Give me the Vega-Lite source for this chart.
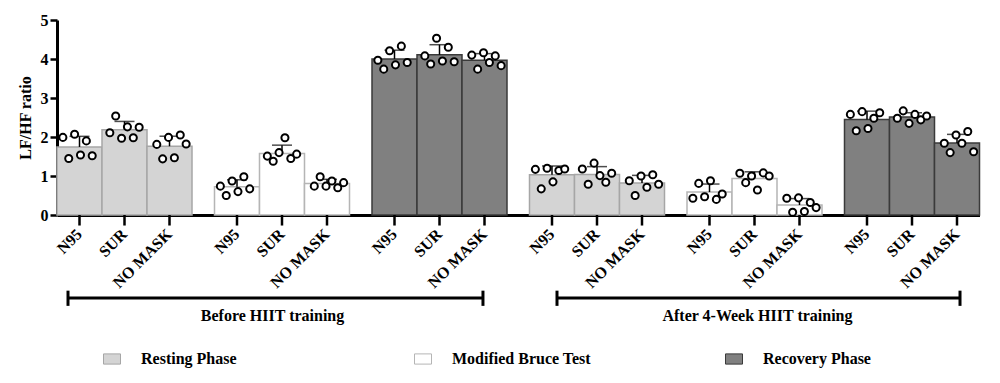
{
  "$schema": "https://vega.github.io/schema/vega-lite/v6.json",
  "autosize": {"type": "none"},
  "padding": {"left": 57, "top": 20, "right": 20.5, "bottom": 168},
  "width": 922.5,
  "height": 195,
  "config": {
    "view": {"stroke": null},
    "font": "Liberation Serif",
    "axisY": {
      "grid": false, "labelOverlap": false, "tickCount": 6,
      "domainWidth": 3, "domainColor": "black", "tickWidth": 2.5, "tickSize": 7, "tickColor": "black",
      "labelFont": "Liberation Serif", "labelFontWeight": "bold", "labelFontSize": 16, "labelColor": "black", "labelPadding": 2,
      "titleFont": "Liberation Serif", "titleFontWeight": "bold", "titleFontSize": 16, "titleColor": "black", "titlePadding": 7
    }
  },
  "data": {"values": [
    {"period":"Before","phase":"Resting Phase","mask":"N95","subject":1,"value":1.99},
    {"period":"Before","phase":"Resting Phase","mask":"N95","subject":2,"value":1.45},
    {"period":"Before","phase":"Resting Phase","mask":"N95","subject":3,"value":2.07},
    {"period":"Before","phase":"Resting Phase","mask":"N95","subject":4,"value":1.54},
    {"period":"Before","phase":"Resting Phase","mask":"N95","subject":5,"value":1.90},
    {"period":"Before","phase":"Resting Phase","mask":"N95","subject":6,"value":1.52},
    {"period":"Before","phase":"Resting Phase","mask":"SUR","subject":1,"value":2.11},
    {"period":"Before","phase":"Resting Phase","mask":"SUR","subject":2,"value":2.54},
    {"period":"Before","phase":"Resting Phase","mask":"SUR","subject":3,"value":1.97},
    {"period":"Before","phase":"Resting Phase","mask":"SUR","subject":4,"value":2.26},
    {"period":"Before","phase":"Resting Phase","mask":"SUR","subject":5,"value":1.98},
    {"period":"Before","phase":"Resting Phase","mask":"SUR","subject":6,"value":2.25},
    {"period":"Before","phase":"Resting Phase","mask":"NO MASK","subject":1,"value":1.81},
    {"period":"Before","phase":"Resting Phase","mask":"NO MASK","subject":2,"value":1.44},
    {"period":"Before","phase":"Resting Phase","mask":"NO MASK","subject":3,"value":1.99},
    {"period":"Before","phase":"Resting Phase","mask":"NO MASK","subject":4,"value":1.47},
    {"period":"Before","phase":"Resting Phase","mask":"NO MASK","subject":5,"value":2.05},
    {"period":"Before","phase":"Resting Phase","mask":"NO MASK","subject":6,"value":1.82},
    {"period":"Before","phase":"Modified Bruce Test","mask":"N95","subject":1,"value":0.74},
    {"period":"Before","phase":"Modified Bruce Test","mask":"N95","subject":2,"value":0.50},
    {"period":"Before","phase":"Modified Bruce Test","mask":"N95","subject":3,"value":0.87},
    {"period":"Before","phase":"Modified Bruce Test","mask":"N95","subject":4,"value":0.60},
    {"period":"Before","phase":"Modified Bruce Test","mask":"N95","subject":5,"value":0.98},
    {"period":"Before","phase":"Modified Bruce Test","mask":"N95","subject":6,"value":0.67},
    {"period":"Before","phase":"Modified Bruce Test","mask":"SUR","subject":1,"value":1.51},
    {"period":"Before","phase":"Modified Bruce Test","mask":"SUR","subject":2,"value":1.38},
    {"period":"Before","phase":"Modified Bruce Test","mask":"SUR","subject":3,"value":1.60},
    {"period":"Before","phase":"Modified Bruce Test","mask":"SUR","subject":4,"value":1.98},
    {"period":"Before","phase":"Modified Bruce Test","mask":"SUR","subject":5,"value":1.45},
    {"period":"Before","phase":"Modified Bruce Test","mask":"SUR","subject":6,"value":1.56},
    {"period":"Before","phase":"Modified Bruce Test","mask":"NO MASK","subject":1,"value":0.74},
    {"period":"Before","phase":"Modified Bruce Test","mask":"NO MASK","subject":2,"value":0.98},
    {"period":"Before","phase":"Modified Bruce Test","mask":"NO MASK","subject":3,"value":0.74},
    {"period":"Before","phase":"Modified Bruce Test","mask":"NO MASK","subject":4,"value":0.87},
    {"period":"Before","phase":"Modified Bruce Test","mask":"NO MASK","subject":5,"value":0.70},
    {"period":"Before","phase":"Modified Bruce Test","mask":"NO MASK","subject":6,"value":0.83},
    {"period":"Before","phase":"Recovery Phase","mask":"N95","subject":1,"value":3.97},
    {"period":"Before","phase":"Recovery Phase","mask":"N95","subject":2,"value":3.74},
    {"period":"Before","phase":"Recovery Phase","mask":"N95","subject":3,"value":4.21},
    {"period":"Before","phase":"Recovery Phase","mask":"N95","subject":4,"value":3.85},
    {"period":"Before","phase":"Recovery Phase","mask":"N95","subject":5,"value":4.33},
    {"period":"Before","phase":"Recovery Phase","mask":"N95","subject":6,"value":3.91},
    {"period":"Before","phase":"Recovery Phase","mask":"SUR","subject":1,"value":4.08},
    {"period":"Before","phase":"Recovery Phase","mask":"SUR","subject":2,"value":3.87},
    {"period":"Before","phase":"Recovery Phase","mask":"SUR","subject":3,"value":4.53},
    {"period":"Before","phase":"Recovery Phase","mask":"SUR","subject":4,"value":3.95},
    {"period":"Before","phase":"Recovery Phase","mask":"SUR","subject":5,"value":4.30},
    {"period":"Before","phase":"Recovery Phase","mask":"SUR","subject":6,"value":3.93},
    {"period":"Before","phase":"Recovery Phase","mask":"NO MASK","subject":1,"value":4.10},
    {"period":"Before","phase":"Recovery Phase","mask":"NO MASK","subject":2,"value":3.74},
    {"period":"Before","phase":"Recovery Phase","mask":"NO MASK","subject":3,"value":4.16},
    {"period":"Before","phase":"Recovery Phase","mask":"NO MASK","subject":4,"value":3.91},
    {"period":"Before","phase":"Recovery Phase","mask":"NO MASK","subject":5,"value":4.08},
    {"period":"Before","phase":"Recovery Phase","mask":"NO MASK","subject":6,"value":3.83},
    {"period":"After","phase":"Resting Phase","mask":"N95","subject":1,"value":1.17},
    {"period":"After","phase":"Resting Phase","mask":"N95","subject":2,"value":0.67},
    {"period":"After","phase":"Resting Phase","mask":"N95","subject":3,"value":1.20},
    {"period":"After","phase":"Resting Phase","mask":"N95","subject":4,"value":0.85},
    {"period":"After","phase":"Resting Phase","mask":"N95","subject":5,"value":1.14},
    {"period":"After","phase":"Resting Phase","mask":"N95","subject":6,"value":1.18},
    {"period":"After","phase":"Resting Phase","mask":"SUR","subject":1,"value":1.18},
    {"period":"After","phase":"Resting Phase","mask":"SUR","subject":2,"value":0.79},
    {"period":"After","phase":"Resting Phase","mask":"SUR","subject":3,"value":1.33},
    {"period":"After","phase":"Resting Phase","mask":"SUR","subject":4,"value":1.01},
    {"period":"After","phase":"Resting Phase","mask":"SUR","subject":5,"value":0.84},
    {"period":"After","phase":"Resting Phase","mask":"SUR","subject":6,"value":1.07},
    {"period":"After","phase":"Resting Phase","mask":"NO MASK","subject":1,"value":0.88},
    {"period":"After","phase":"Resting Phase","mask":"NO MASK","subject":2,"value":0.50},
    {"period":"After","phase":"Resting Phase","mask":"NO MASK","subject":3,"value":1.00},
    {"period":"After","phase":"Resting Phase","mask":"NO MASK","subject":4,"value":0.71},
    {"period":"After","phase":"Resting Phase","mask":"NO MASK","subject":5,"value":1.03},
    {"period":"After","phase":"Resting Phase","mask":"NO MASK","subject":6,"value":0.79},
    {"period":"After","phase":"Modified Bruce Test","mask":"N95","subject":1,"value":0.43},
    {"period":"After","phase":"Modified Bruce Test","mask":"N95","subject":2,"value":0.81},
    {"period":"After","phase":"Modified Bruce Test","mask":"N95","subject":3,"value":0.47},
    {"period":"After","phase":"Modified Bruce Test","mask":"N95","subject":4,"value":0.88},
    {"period":"After","phase":"Modified Bruce Test","mask":"N95","subject":5,"value":0.40},
    {"period":"After","phase":"Modified Bruce Test","mask":"N95","subject":6,"value":0.54},
    {"period":"After","phase":"Modified Bruce Test","mask":"SUR","subject":1,"value":1.07},
    {"period":"After","phase":"Modified Bruce Test","mask":"SUR","subject":2,"value":0.83},
    {"period":"After","phase":"Modified Bruce Test","mask":"SUR","subject":3,"value":1.00},
    {"period":"After","phase":"Modified Bruce Test","mask":"SUR","subject":4,"value":0.64},
    {"period":"After","phase":"Modified Bruce Test","mask":"SUR","subject":5,"value":1.08},
    {"period":"After","phase":"Modified Bruce Test","mask":"SUR","subject":6,"value":1.00},
    {"period":"After","phase":"Modified Bruce Test","mask":"NO MASK","subject":1,"value":0.43},
    {"period":"After","phase":"Modified Bruce Test","mask":"NO MASK","subject":2,"value":0.07},
    {"period":"After","phase":"Modified Bruce Test","mask":"NO MASK","subject":3,"value":0.44},
    {"period":"After","phase":"Modified Bruce Test","mask":"NO MASK","subject":4,"value":0.09},
    {"period":"After","phase":"Modified Bruce Test","mask":"NO MASK","subject":5,"value":0.32},
    {"period":"After","phase":"Modified Bruce Test","mask":"NO MASK","subject":6,"value":0.19},
    {"period":"After","phase":"Recovery Phase","mask":"N95","subject":1,"value":2.58},
    {"period":"After","phase":"Recovery Phase","mask":"N95","subject":2,"value":2.16},
    {"period":"After","phase":"Recovery Phase","mask":"N95","subject":3,"value":2.65},
    {"period":"After","phase":"Recovery Phase","mask":"N95","subject":4,"value":2.22},
    {"period":"After","phase":"Recovery Phase","mask":"N95","subject":5,"value":2.48},
    {"period":"After","phase":"Recovery Phase","mask":"N95","subject":6,"value":2.62},
    {"period":"After","phase":"Recovery Phase","mask":"SUR","subject":1,"value":2.48},
    {"period":"After","phase":"Recovery Phase","mask":"SUR","subject":2,"value":2.67},
    {"period":"After","phase":"Recovery Phase","mask":"SUR","subject":3,"value":2.35},
    {"period":"After","phase":"Recovery Phase","mask":"SUR","subject":4,"value":2.58},
    {"period":"After","phase":"Recovery Phase","mask":"SUR","subject":5,"value":2.44},
    {"period":"After","phase":"Recovery Phase","mask":"SUR","subject":6,"value":2.54},
    {"period":"After","phase":"Recovery Phase","mask":"NO MASK","subject":1,"value":1.84},
    {"period":"After","phase":"Recovery Phase","mask":"NO MASK","subject":2,"value":1.60},
    {"period":"After","phase":"Recovery Phase","mask":"NO MASK","subject":3,"value":2.05},
    {"period":"After","phase":"Recovery Phase","mask":"NO MASK","subject":4,"value":1.84},
    {"period":"After","phase":"Recovery Phase","mask":"NO MASK","subject":5,"value":2.14},
    {"period":"After","phase":"Recovery Phase","mask":"NO MASK","subject":6,"value":1.62}
  ]},
  "transform": [
    {"calculate": "datum.period + '|' + datum.phase", "as": "group"},
    {"calculate": "datum.mask + '|' + datum.subject", "as": "key"}
  ],
  "encoding": {
    "x": {
      "field": "group", "type": "nominal",
      "scale": {
        "domain": ["Before|Resting Phase","Before|Modified Bruce Test","Before|Recovery Phase","After|Resting Phase","After|Modified Bruce Test","After|Recovery Phase"],
        "paddingInner": 0.142857, "paddingOuter": 0
      },
      "axis": {"labels": false, "ticks": false, "title": null, "domainWidth": 3, "domainColor": "black"}
    }
  },
  "layer": [
    {
      "mark": {"type": "bar", "strokeWidth": 1.5},
      "encoding": {
        "xOffset": {"field": "mask", "type": "nominal", "scale": {"domain": ["N95","SUR","NO MASK"], "paddingInner": 0, "paddingOuter": 0}},
        "y": {
          "aggregate": "mean", "field": "value", "type": "quantitative", "stack": null, "title": "LF/HF ratio",
          "scale": {"domain": [0, 5], "nice": false},
          "axis": {"values": [0,1,2,3,4,5], "title": "LF/HF ratio", "labelOverlap": false, "titleFontSize": 16, "titleFontWeight": "bold", "titleFont": "Liberation Serif", "titlePadding": 7}
        },
        "fill": {
          "field": "phase", "type": "nominal",
          "scale": {"domain": ["Resting Phase","Modified Bruce Test","Recovery Phase"], "range": ["#d4d4d4","#ffffff","#808080"]},
          "legend": {
            "orient": "none", "legendX": 46, "legendY": 330, "direction": "horizontal", "columns": 3,
            "gridAlign": "all", "columnPadding": 132, "title": null,
            "symbolType": "M-1,-0.6H1V0.6H-1Z", "symbolSize": 289, "symbolStrokeWidth": 1,
            "labelFont": "Liberation Serif", "labelFontWeight": "bold", "labelFontSize": 16, "labelColor": "black",
            "labelOffset": 20, "labelLimit": 300
          }
        },
        "stroke": {
          "field": "phase", "type": "nominal",
          "scale": {"domain": ["Resting Phase","Modified Bruce Test","Recovery Phase"], "range": ["#a6a6a6","#b5b5b5","#3a3a3a"]},
          "legend": {
            "orient": "none", "legendX": 46, "legendY": 330, "direction": "horizontal", "columns": 3,
            "gridAlign": "all", "columnPadding": 132, "title": null,
            "symbolType": "M-1,-0.6H1V0.6H-1Z", "symbolSize": 289, "symbolStrokeWidth": 1,
            "labelFont": "Liberation Serif", "labelFontWeight": "bold", "labelFontSize": 16, "labelColor": "black",
            "labelOffset": 20, "labelLimit": 300
          }
        }
      }
    },
    {
      "transform": [
        {"aggregate": [{"op": "mean", "field": "value", "as": "mean"}, {"op": "stdev", "field": "value", "as": "sd"}], "groupby": ["group", "mask"]},
        {"calculate": "datum.mean + datum.sd", "as": "hi"}
      ],
      "encoding": {
        "xOffset": {"field": "mask", "type": "nominal", "scale": {"domain": ["N95","SUR","NO MASK"], "paddingInner": 0, "paddingOuter": 0}}
      },
      "layer": [
        {
          "mark": {"type": "rule", "color": "black", "strokeWidth": 1.5},
          "encoding": {"y": {"field": "mean", "type": "quantitative", "title": "LF/HF ratio", "axis": {"values": [0,1,2,3,4,5], "title": "LF/HF ratio", "labelOverlap": false, "titleFontSize": 16, "titleFontWeight": "bold", "titleFont": "Liberation Serif", "titlePadding": 7}}, "y2": {"field": "hi"}}
        },
        {
          "mark": {"type": "tick", "color": "black", "thickness": 1.5, "size": 20, "orient": "horizontal"},
          "encoding": {"y": {"field": "hi", "type": "quantitative", "title": "LF/HF ratio", "axis": {"values": [0,1,2,3,4,5], "title": "LF/HF ratio", "labelOverlap": false, "titleFontSize": 16, "titleFontWeight": "bold", "titleFont": "Liberation Serif", "titlePadding": 7}}}
        },
        {
          "mark": {"type": "rule", "color": "black", "strokeWidth": 2.5},
          "encoding": {"y": {"datum": 0, "title": "LF/HF ratio", "axis": {"values": [0,1,2,3,4,5], "title": "LF/HF ratio", "labelOverlap": false, "titleFontSize": 16, "titleFontWeight": "bold", "titleFont": "Liberation Serif", "titlePadding": 7}}, "y2": {"datum": -0.27}}
        },
        {
          "mark": {"type": "text", "angle": 315, "align": "right", "baseline": "middle", "font": "Liberation Serif", "fontWeight": "bold", "fontSize": 16, "fill": "black"},
          "encoding": {"y": {"datum": -0.43, "title": "LF/HF ratio", "axis": {"values": [0,1,2,3,4,5], "title": "LF/HF ratio", "labelOverlap": false, "titleFontSize": 16, "titleFontWeight": "bold", "titleFont": "Liberation Serif", "titlePadding": 7}}, "text": {"field": "mask", "type": "nominal"}}
        }
      ]
    },
    {
      "mark": {"type": "point", "shape": "circle", "filled": false, "fill": "white", "fillOpacity": 1, "stroke": "black", "strokeWidth": 2, "size": 50, "opacity": 1},
      "encoding": {
        "xOffset": {
          "field": "key", "type": "nominal",
          "scale": {"domain": ["s0","N95|1","N95|2","N95|3","N95|4","N95|5","N95|6","s1","s2","SUR|1","SUR|2","SUR|3","SUR|4","SUR|5","SUR|6","s3","s4","NO MASK|1","NO MASK|2","NO MASK|3","NO MASK|4","NO MASK|5","NO MASK|6","s5"], "paddingInner": 0, "paddingOuter": 0}
        },
        "y": {"field": "value", "type": "quantitative", "title": "LF/HF ratio", "axis": {"values": [0,1,2,3,4,5], "title": "LF/HF ratio", "labelOverlap": false, "titleFontSize": 16, "titleFontWeight": "bold", "titleFont": "Liberation Serif", "titlePadding": 7}}
      }
    },
    {
      "data": {"values": [{}]},
      "mark": {"type": "rule", "color": "black", "strokeWidth": 3},
      "encoding": {
        "x": {"datum": "Before|Resting Phase", "bandPosition": 0.0815},
        "x2": {"datum": "Before|Recovery Phase", "bandPosition": 0.822},
        "y": {"datum": -2.128, "title": "LF/HF ratio", "axis": {"values": [0,1,2,3,4,5], "title": "LF/HF ratio", "labelOverlap": false, "titleFontSize": 16, "titleFontWeight": "bold", "titleFont": "Liberation Serif", "titlePadding": 7}}
      }
    },
    {
      "data": {"values": [{}]},
      "mark": {"type": "rule", "color": "black", "strokeWidth": 3},
      "encoding": {
        "x": {"datum": "After|Resting Phase", "bandPosition": 0.2037},
        "x2": {"datum": "After|Recovery Phase", "bandPosition": 0.8556},
        "y": {"datum": -2.128, "title": "LF/HF ratio", "axis": {"values": [0,1,2,3,4,5], "title": "LF/HF ratio", "labelOverlap": false, "titleFontSize": 16, "titleFontWeight": "bold", "titleFont": "Liberation Serif", "titlePadding": 7}}
      }
    },
    {
      "data": {"values": [{}]},
      "mark": {"type": "rule", "color": "black", "strokeWidth": 3},
      "encoding": {"x": {"datum": "Before|Resting Phase", "bandPosition": 0.0815}, "y": {"datum": -1.94, "title": "LF/HF ratio", "axis": {"values": [0,1,2,3,4,5], "title": "LF/HF ratio", "labelOverlap": false, "titleFontSize": 16, "titleFontWeight": "bold", "titleFont": "Liberation Serif", "titlePadding": 7}}, "y2": {"datum": -2.33}}
    },
    {
      "data": {"values": [{}]},
      "mark": {"type": "rule", "color": "black", "strokeWidth": 3},
      "encoding": {"x": {"datum": "Before|Recovery Phase", "bandPosition": 0.822}, "y": {"datum": -1.94, "title": "LF/HF ratio", "axis": {"values": [0,1,2,3,4,5], "title": "LF/HF ratio", "labelOverlap": false, "titleFontSize": 16, "titleFontWeight": "bold", "titleFont": "Liberation Serif", "titlePadding": 7}}, "y2": {"datum": -2.33}}
    },
    {
      "data": {"values": [{}]},
      "mark": {"type": "rule", "color": "black", "strokeWidth": 3},
      "encoding": {"x": {"datum": "After|Resting Phase", "bandPosition": 0.2037}, "y": {"datum": -1.94, "title": "LF/HF ratio", "axis": {"values": [0,1,2,3,4,5], "title": "LF/HF ratio", "labelOverlap": false, "titleFontSize": 16, "titleFontWeight": "bold", "titleFont": "Liberation Serif", "titlePadding": 7}}, "y2": {"datum": -2.33}}
    },
    {
      "data": {"values": [{}]},
      "mark": {"type": "rule", "color": "black", "strokeWidth": 3},
      "encoding": {"x": {"datum": "After|Recovery Phase", "bandPosition": 0.8556}, "y": {"datum": -1.94, "title": "LF/HF ratio", "axis": {"values": [0,1,2,3,4,5], "title": "LF/HF ratio", "labelOverlap": false, "titleFontSize": 16, "titleFontWeight": "bold", "titleFont": "Liberation Serif", "titlePadding": 7}}, "y2": {"datum": -2.33}}
    },
    {
      "data": {"values": [{}]},
      "mark": {"type": "text", "text": "Before HIIT training", "font": "Liberation Serif", "fontWeight": "bold", "fontSize": 16, "fill": "black"},
      "encoding": {"x": {"datum": "Before|Modified Bruce Test", "bandPosition": 0.43}, "y": {"datum": -2.59, "title": "LF/HF ratio", "axis": {"values": [0,1,2,3,4,5], "title": "LF/HF ratio", "labelOverlap": false, "titleFontSize": 16, "titleFontWeight": "bold", "titleFont": "Liberation Serif", "titlePadding": 7}}}
    },
    {
      "data": {"values": [{}]},
      "mark": {"type": "text", "text": "After 4-Week HIIT training", "font": "Liberation Serif", "fontWeight": "bold", "fontSize": 16, "fill": "black"},
      "encoding": {"x": {"datum": "After|Modified Bruce Test", "bandPosition": 0.522}, "y": {"datum": -2.59, "title": "LF/HF ratio", "axis": {"values": [0,1,2,3,4,5], "title": "LF/HF ratio", "labelOverlap": false, "titleFontSize": 16, "titleFontWeight": "bold", "titleFont": "Liberation Serif", "titlePadding": 7}}}
    }
  ],
  "resolve": {"scale": {"xOffset": "independent"}}
}
